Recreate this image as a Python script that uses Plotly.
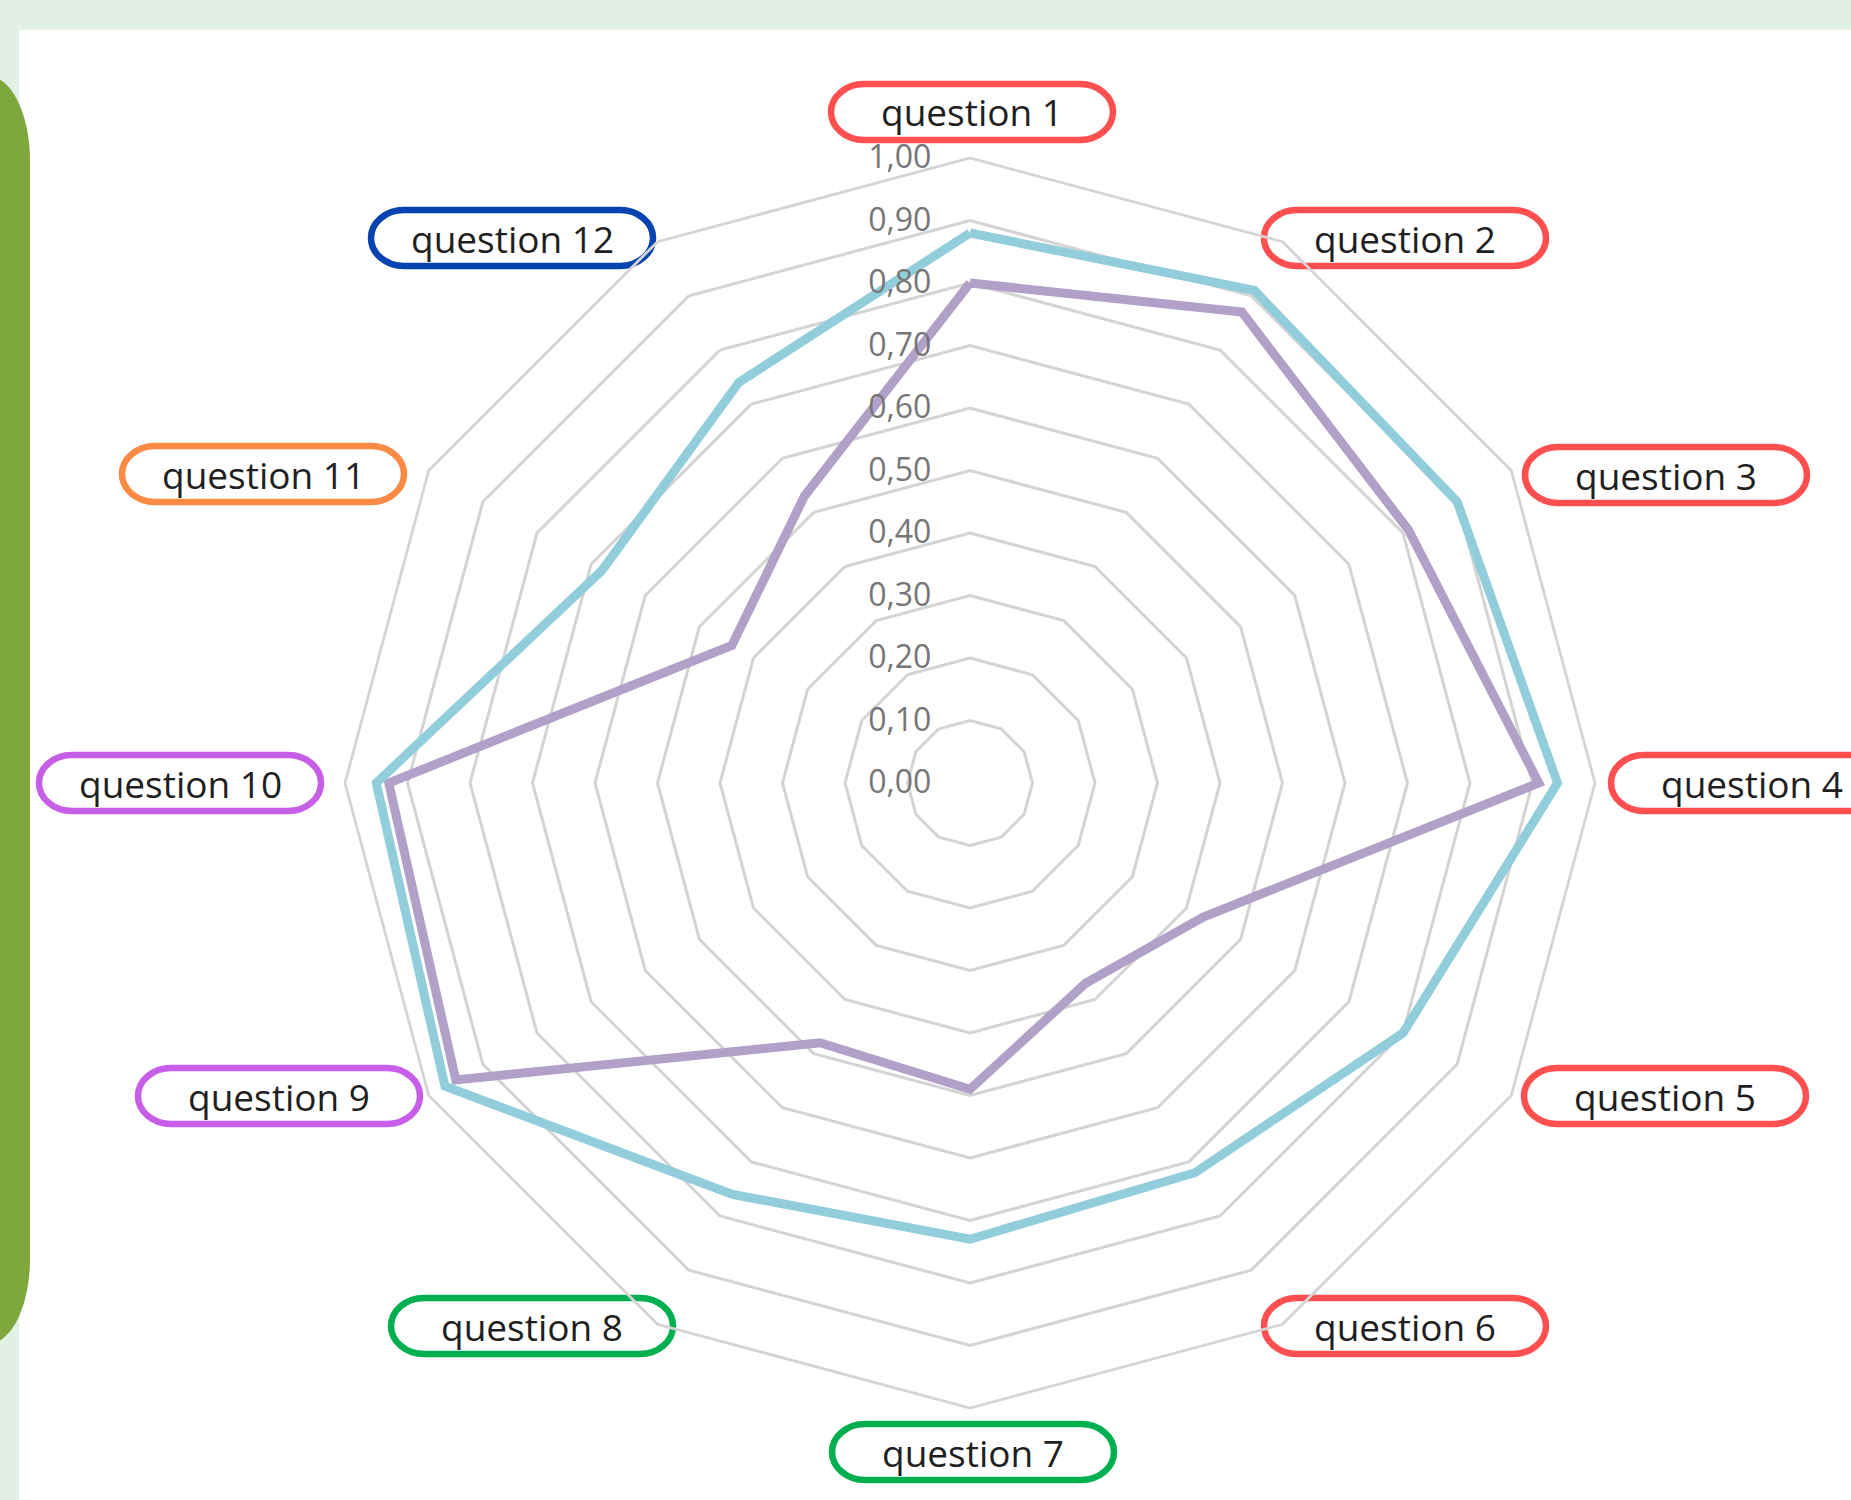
import plotly.graph_objects as go

# ---------------- data ----------------
categories = ["question 1", "question 2", "question 3", "question 4",
              "question 5", "question 6", "question 7", "question 8",
              "question 9", "question 10", "question 11", "question 12"]
series_blue_name = "Série 1"
series_blue = [0.88, 0.91, 0.90, 0.94, 0.80, 0.72, 0.73, 0.76, 0.97, 0.95, 0.68, 0.74]
series_purple_name = "Série 2"
series_purple = [0.80, 0.87, 0.81, 0.91, 0.43, 0.37, 0.49, 0.48, 0.95, 0.93, 0.44, 0.53]
radial_ticks = [0.0, 0.1, 0.2, 0.3, 0.4, 0.5, 0.6, 0.7, 0.8, 0.9, 1.0]

# ---------------- styling / layout ----------------
W, H = 1851, 1500
CX, CY, R = 970, 783, 625
GRID = "#d4d4d4"
BLUE = "#92cddc"
PURPLE = "#b1a0c7"
RED = "#ff4f4f"
GREEN = "#00b050"
VIOLET = "#c65ee8"
ORANGE = "#fb8a45"
NAVY = "#0543b0"
label_colors = [RED, RED, RED, RED, RED, RED, GREEN, GREEN, VIOLET, VIOLET, ORANGE, NAVY]
# label box centres in page pixels
label_centres = [(972, 112), (1405, 238), (1666, 475), (1752, 783),
                 (1665, 1096), (1405, 1326), (973, 1452), (532, 1326),
                 (279, 1096), (180, 783), (263, 474), (512, 238)]
BOX_W, BOX_H, BOX_RX = 282, 56, 33


def fx(x):
    return x / W


def fy(y):
    return 1 - y / H


def rounded_rect(x0, y0, x1, y1, rx, ry):
    k = 0.5523

    def P(x, y):
        return f"{fx(x):.5f},{fy(y):.5f}"
    d = (f"M{P(x0 + rx, y0)} L{P(x1 - rx, y0)} "
         f"C{P(x1 - rx + k * rx, y0)} {P(x1, y0 + ry - k * ry)} {P(x1, y0 + ry)} "
         f"L{P(x1, y1 - ry)} "
         f"C{P(x1, y1 - ry + k * ry)} {P(x1 - rx + k * rx, y1)} {P(x1 - rx, y1)} "
         f"L{P(x0 + rx, y1)} "
         f"C{P(x0 + rx - k * rx, y1)} {P(x0, y1 - ry + k * ry)} {P(x0, y1 - ry)} "
         f"L{P(x0, y0 + ry)} "
         f"C{P(x0, y0 + ry - k * ry)} {P(x0 + rx - k * rx, y0)} {P(x0 + rx, y0)} Z")
    return d


fig = go.Figure()

for name, vals, col in [(series_purple_name, series_purple, PURPLE),
                        (series_blue_name, series_blue, BLUE)]:
    fig.add_trace(go.Scatterpolar(
        r=vals + vals[:1],
        theta=categories + categories[:1],
        mode="lines",
        name=name,
        line=dict(color=col, width=9),
        showlegend=False,
    ))

shapes = []
BG = "#e2efe5"
# page background strips
shapes.append(dict(type="rect", xref="paper", yref="paper", x0=0, x1=1,
                   y0=fy(30), y1=1, fillcolor=BG, line=dict(width=0), layer="below"))
shapes.append(dict(type="rect", xref="paper", yref="paper", x0=0, x1=fx(19),
                   y0=0, y1=1, fillcolor=BG, line=dict(width=0), layer="below"))
# green side tab
shapes.append(dict(type="path", xref="paper", yref="paper",
                   path=rounded_rect(-100, 76, 30, 1344, 42, 85),
                   fillcolor="#7ea83e", line=dict(width=0), layer="below"))

annotations = []
for cat, col, (cx, cy) in zip(categories, label_colors, label_centres):
    shapes.append(dict(type="path", xref="paper", yref="paper",
                       path=rounded_rect(cx - BOX_W / 2, cy - BOX_H / 2,
                                         cx + BOX_W / 2, cy + BOX_H / 2,
                                         BOX_RX, BOX_H / 2),
                       fillcolor="white", line=dict(color=col, width=6.5),
                       layer="below"))
    annotations.append(dict(text=cat, xref="paper", yref="paper",
                            x=fx(cx), y=fy(cy), xanchor="center", yanchor="middle",
                            showarrow=False,
                            font=dict(family="Open Sans", size=37, color="#1f1f1f")))

fig.update_layout(
    width=W, height=H, autosize=False,
    margin=dict(l=0, r=0, t=0, b=0, pad=0),
    paper_bgcolor="white",
    plot_bgcolor="white",
    separators=", ",
    showlegend=False,
    shapes=shapes,
    annotations=annotations,
    polar=dict(
        domain=dict(x=[(CX - R) / W, (CX + R) / W],
                    y=[1 - (CY + R) / H, 1 - (CY - R) / H]),
        bgcolor="rgba(0,0,0,0)",
        gridshape="linear",
        angularaxis=dict(rotation=90, direction="clockwise",
                         categoryorder="array", categoryarray=categories,
                         showticklabels=False, ticks="", showgrid=False,
                         showline=True, linecolor=GRID, linewidth=2.8),
        radialaxis=dict(range=[0, 1], tickvals=radial_ticks, tickformat=".2f",
                        angle=90, tickangle=90, side="counterclockwise", showline=False,
                        ticks="outside", ticklen=27, tickcolor="rgba(0,0,0,0)",
                        tickfont=dict(family="Open Sans", size=32, color="#767676"),
                        gridcolor=GRID, gridwidth=2.8),
    ),
)

fig.write_html("out.html")
